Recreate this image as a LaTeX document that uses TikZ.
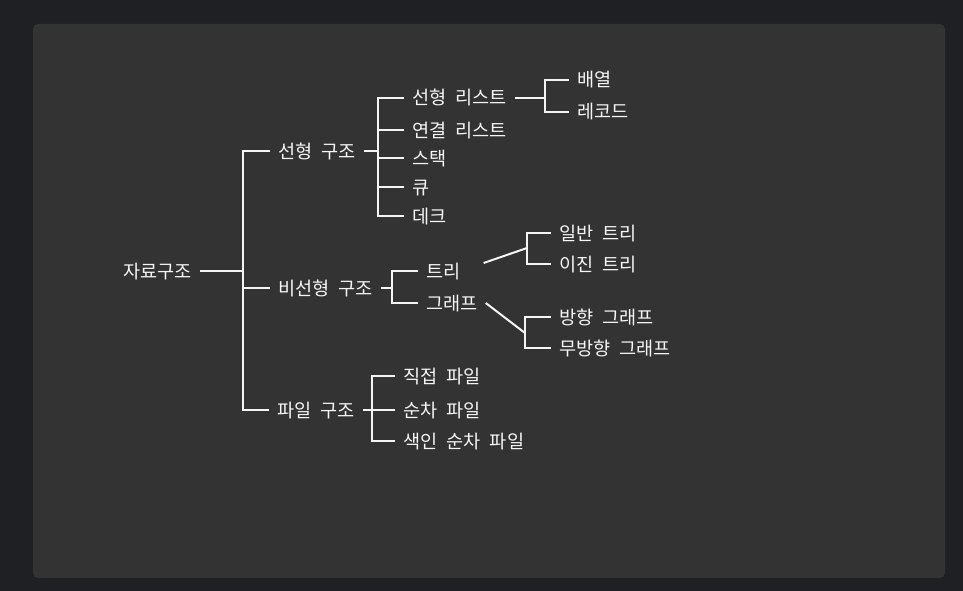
\documentclass[tikz,border=0pt]{standalone}
\usepackage{fontspec}
\setmainfont{Noto Sans CJK KR}[WordSpace=2.2]
\usetikzlibrary{positioning}
\definecolor{pagebg}{HTML}{1F2023}
\definecolor{panelbg}{HTML}{333333}
\definecolor{ink}{HTML}{F5F5F5}
\tikzset{lbl/.style={anchor=west,inner xsep=8pt,inner ysep=0pt,text height=14pt,text depth=0pt,text=ink,font=\fontsize{18.6}{22}\selectfont},link/.style={draw=ink,line width=2pt}}

\begin{document}
\begin{tikzpicture}[x=1pt,y=-1pt]
\fill[pagebg] (0,0) rectangle (963,591);
\fill[panelbg,rounded corners=5pt] (33,24) rectangle (945,578);
% labels
\node[lbl] (root) at (115,271) {자료구조};
\node[lbl] (lin) at (270,151) {선형 구조};
\node[lbl] (nonlin) at (270,288) {비선형 구조};
\node[lbl] (file) at (269,410) {파일 구조};
\node[lbl] (linlist) at (404,98) {선형 리스트};
\node[lbl] (linked) at (404,130) {연결 리스트};
\node[lbl] (stack) at (404,158) {스택};
\node[lbl] (queue) at (404,187) {큐};
\node[lbl] (deque) at (404,216) {데크};
\node[lbl] (array) at (569,80) {배열};
\node[lbl] (record) at (569,112) {레코드};
\node[lbl] (tree) at (418,271) {트리};
\node[lbl] (graph) at (418,303) {그래프};
\node[lbl] (gtree) at (551,233) {일반 트리};
\node[lbl] (btree) at (551,264) {이진 트리};
\node[lbl] (dgraph) at (551,317) {방향 그래프};
\node[lbl] (ugraph) at (551,348) {무방향 그래프};
\node[lbl] (direct) at (395,376) {직접 파일};
\node[lbl] (seq) at (395,410) {순차 파일};
\node[lbl] (idx) at (395,441) {색인 순차 파일};
% forks
\coordinate (rootfork) at (243,271);
\coordinate (linfork) at (378,151);
\coordinate (listfork) at (545,98);
\coordinate (nonlinfork) at (392,288);
\coordinate (treefork) at (527,248);
\coordinate (graphfork) at (525,333);
\coordinate (filefork) at (372,410);
% links
\draw[link] (root.east) -- (rootfork);
\foreach \n in {lin,nonlin,file} \draw[link] (\n.west) -| (rootfork);
\draw[link] (lin.east) -- (linfork);
\foreach \n in {linlist,linked,stack,queue,deque} \draw[link] (\n.west) -| (linfork);
\draw[link] (linlist.east) -- (listfork);
\foreach \n in {array,record} \draw[link] (\n.west) -| (listfork);
\draw[link] (nonlin.east) -- (nonlinfork);
\foreach \n in {tree,graph} \draw[link] (\n.west) -| (nonlinfork);
\draw[link] ([shift={(15,-8)}]tree.east) -- (treefork);
\foreach \n in {gtree,btree} \draw[link] (\n.west) -| (treefork);
\draw[link] (graph.east) -- (graphfork);
\foreach \n in {dgraph,ugraph} \draw[link] (\n.west) -| (graphfork);
\draw[link] (file.east) -- (filefork);
\foreach \n in {direct,seq,idx} \draw[link] (\n.west) -| (filefork);
\end{tikzpicture}
\end{document}
